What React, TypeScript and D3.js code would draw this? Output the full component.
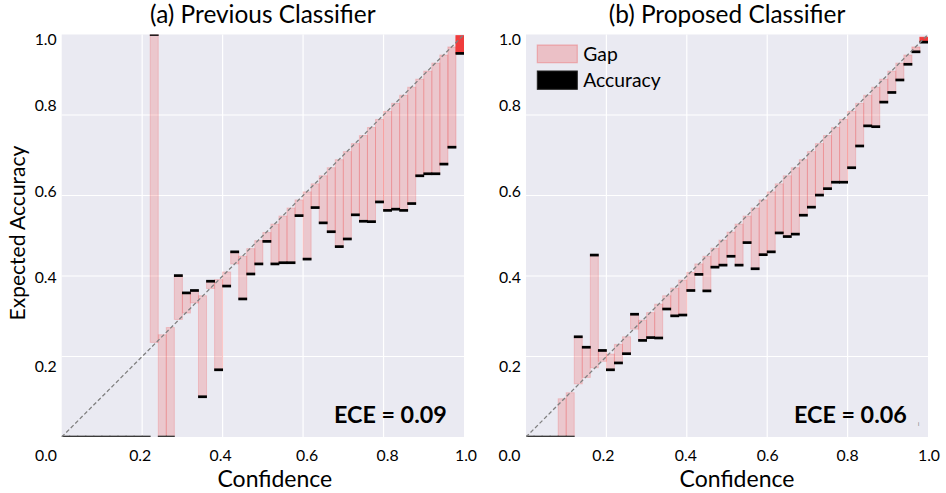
import React from "react";
import * as d3 from "d3";

// ---------- data ----------
const BIN_COUNT = 50;

const prevAccuracy = [
  0, 0, 0, 0, 0, 0, 0, 0, 0, 0,
  0, 1.0, 0, 0, 0.401, 0.358, 0.364, 0.1, 0.387, 0.167,
  0.375, 0.46, 0.343, 0.405, 0.43, 0.486, 0.43, 0.433, 0.433, 0.55,
  0.442, 0.57, 0.532, 0.51, 0.473, 0.492, 0.552, 0.536, 0.535, 0.584,
  0.563, 0.566, 0.563, 0.58, 0.649, 0.654, 0.654, 0.678, 0.72, 0.953,
];
const prevConfidence = [
  0, 0, 0, 0, 0, 0, 0, 0, 0, 0,
  0, 0.235, 0.254, 0.272, 0.292, 0.308, 0.333, 0.351, 0.369, 0.391,
  0.41, 0.43, 0.449, 0.468, 0.488, 0.508, 0.529, 0.549, 0.569, 0.589,
  0.609, 0.629, 0.649, 0.669, 0.689, 0.709, 0.729, 0.749, 0.769, 0.789,
  0.809, 0.829, 0.849, 0.869, 0.889, 0.909, 0.929, 0.949, 0.969, 0.997,
];
const propAccuracy = [
  0, 0, 0, 0, 0, 0, 0.249, 0.223, 0.452, 0.215,
  0.167, 0.184, 0.207, 0.305, 0.24, 0.247, 0.246, 0.318, 0.301, 0.303,
  0.364, 0.404, 0.363, 0.422, 0.427, 0.449, 0.427, 0.483, 0.418, 0.453,
  0.46, 0.507, 0.498, 0.504, 0.551, 0.571, 0.601, 0.617, 0.633, 0.633,
  0.669, 0.723, 0.773, 0.771, 0.832, 0.856, 0.887, 0.926, 0.957, 0.981,
];
const propConfidence = [
  0, 0, 0, 0, 0.095, 0.11, 0.132, 0.148, 0.172, 0.188,
  0.206, 0.23, 0.249, 0.268, 0.29, 0.309, 0.33, 0.351, 0.37, 0.39,
  0.409, 0.43, 0.449, 0.469, 0.489, 0.509, 0.529, 0.549, 0.569, 0.589,
  0.609, 0.629, 0.649, 0.669, 0.689, 0.709, 0.729, 0.749, 0.769, 0.789,
  0.809, 0.829, 0.849, 0.869, 0.889, 0.909, 0.929, 0.949, 0.969, 0.993,
];
// relative sample weight of each bin (drives the gap opacity)
const prevWeight = [
  0, 0, 0, 0, 0, 0, 0, 0, 0, 0, 0, 0, 0, 0, 0, 0, 0, 0, 0, 0, 0, 0, 0, 0, 0,
  0, 0, 0, 0, 0, 0, 0, 0, 0, 0, 0, 0, 0, 0, 0, 0, 0, 0, 0, 0, 0, 0, 0.02, 0.05, 1,
];
const propWeight = [
  0, 0, 0, 0, 0, 0, 0, 0, 0, 0, 0, 0, 0, 0, 0, 0, 0, 0, 0, 0, 0, 0, 0, 0, 0,
  0, 0, 0, 0, 0, 0, 0, 0, 0, 0, 0, 0, 0, 0, 0, 0, 0, 0, 0, 0, 0, 0, 0.03, 0.1, 1,
];

const xTicks = [0, 0.2, 0.4, 0.6, 0.8, 1.0];
const xTickLabels = ["0.0", "0.2", "0.4", "0.6", "0.8", "1.0"];
const yTicks = [0.2, 0.4, 0.6, 0.8, 1.0];
const yTickLabels = ["0.2", "0.4", "0.6", "0.8", "1.0"];
const gridTicks = [0.2, 0.4, 0.6, 0.8];
const panelTitles = ["(a) Previous Classifier", "(b) Proposed Classifier"];
const eceLabels = ["ECE = 0.09", "ECE = 0.06"];
const legendLabels = ["Gap", "Accuracy"];
const xAxisTitle = "Confidence";
const yAxisTitle = "Expected Accuracy";

// ---------- layout ----------
const W = 946;
const H = 493;
const FONT = "Lato, 'Open Sans', sans-serif";
const TOP = 34.5;
const BOTTOM = 437;
const panelsLayout = [
  { x0: 61.7, x1: 464, xNudge: [-15.7, -2, -2, 4, 4, 2], eceRight: 446.7, xTitleShift: 12 },
  { x0: 526, x1: 928, xNudge: [-16.5, -3, -1, 0.5, 0, 1], eceRight: 906.7, xTitleShift: 10 },
];
const yLabelNudge = [10, 2, -3.7, -9, 5.5];
const GAP_RGB = "rgb(240,60,60)";

type PanelProps = {
  idx: number;
  acc: number[];
  conf: number[];
  weight: number[];
};

function Panel({ idx, acc, conf, weight }: PanelProps) {
  const L = panelsLayout[idx];
  const xs = d3.scaleLinear().domain([0, 1]).range([L.x0, L.x1]);
  const ys = d3.scaleLinear().domain([0, 1]).range([BOTTOM, TOP]);
  const edges = d3.range(BIN_COUNT + 1).map((i) => i / BIN_COUNT);
  const bins = d3.range(BIN_COUNT).map((i) => ({
    i,
    lo: edges[i],
    hi: edges[i + 1],
    acc: acc[i],
    conf: conf[i],
    alpha: 0.2 + 0.8 * weight[i],
  }));
  const clipId = `clip-${idx}`;
  const diag = d3.line<number[]>().x((d) => xs(d[0])).y((d) => ys(d[1]))([
    [0, 0],
    [1, 1],
  ]);
  const cx = (L.x0 + L.x1) / 2;
  return (
    <g>
      <defs>
        <clipPath id={clipId}>
          <rect x={L.x0} y={TOP} width={L.x1 - L.x0} height={BOTTOM - TOP} />
        </clipPath>
      </defs>
      <rect x={L.x0} y={TOP} width={L.x1 - L.x0} height={BOTTOM - TOP} fill="#EAEAF2" />
      {gridTicks.map((t) => (
        <line key={"gx" + t} x1={xs(t)} x2={xs(t)} y1={TOP} y2={BOTTOM} stroke="#fff" strokeWidth={1.2} />
      ))}
      {gridTicks.map((t) => (
        <line key={"gy" + t} x1={L.x0} x2={L.x1} y1={ys(t)} y2={ys(t)} stroke="#fff" strokeWidth={1.2} />
      ))}
      <g clipPath={`url(#${clipId})`}>
        {bins.map((b) => {
          const top = ys(Math.max(b.acc, b.conf));
          const bot = ys(Math.min(b.acc, b.conf));
          if (bot - top <= 0) return null;
          return (
            <rect
              key={"gap" + b.i}
              x={xs(b.lo)}
              y={top}
              width={xs(b.hi) - xs(b.lo)}
              height={bot - top}
              fill={GAP_RGB}
              fillOpacity={b.alpha}
              stroke={GAP_RGB}
              strokeOpacity={b.alpha}
              strokeWidth={1}
            />
          );
        })}
        {bins.map((b) => (
          <rect
            key={"acc" + b.i}
            x={xs(b.lo) - 0.4}
            y={ys(b.acc) - 1.35}
            width={xs(b.hi) - xs(b.lo) + 0.8}
            height={2.7}
            fill={b.acc === 0 ? "#3a3a3a" : "#000"}
          />
        ))}
        <path d={diag || ""} stroke="#808080" strokeWidth={1.3} strokeDasharray="4,2.4" fill="none" />
      </g>
      {/* tick labels */}
      {xTicks.map((t, k) => (
        <text
          key={"xt" + k}
          x={xs(t) + L.xNudge[k]}
          y={460.5}
          textAnchor="middle"
          fontFamily={FONT}
          fontSize={15.8}
          fill="#000"
        >
          {xTickLabels[k]}
        </text>
      ))}
      {yTicks.map((t, k) => (
        <text
          key={"yt" + k}
          x={L.x0 - 5}
          y={ys(t) + yLabelNudge[k] + 5.4}
          textAnchor="end"
          fontFamily={FONT}
          fontSize={15.8}
          fill="#000"
        >
          {yTickLabels[k]}
        </text>
      ))}
      <text x={cx} y={23.3} textAnchor="middle" fontFamily={FONT} fontSize={24.4} fill="#000">
        {panelTitles[idx]}
      </text>
      <text
        x={cx + L.xTitleShift}
        y={486.5}
        textAnchor="middle"
        fontFamily={FONT}
        fontSize={23}
        fill="#000"
      >
        {xAxisTitle}
      </text>
      <text
        x={L.eceRight}
        y={423.3}
        textAnchor="end"
        fontFamily={FONT}
        fontWeight={700}
        fontSize={23.3}
        fill="#000"
      >
        {eceLabels[idx]}
      </text>
    </g>
  );
}

function Legend() {
  const px = 537.3;
  const pw = 40;
  const rows = [
    { y: 45, h: 17.7 },
    { y: 71, h: 18.3 },
  ];
  return (
    <g>
      <rect
        x={px}
        y={rows[0].y}
        width={pw}
        height={rows[0].h}
        fill={GAP_RGB}
        fillOpacity={0.24}
        stroke={GAP_RGB}
        strokeOpacity={0.3}
        strokeWidth={1.2}
      />
      <rect x={px} y={rows[1].y} width={pw} height={rows[1].h} fill="#000" stroke="#222" strokeWidth={1} />
      {legendLabels.map((l, k) => (
        <text
          key={l}
          x={583.3}
          y={rows[k].y + rows[k].h / 2 + 7}
          fontFamily={FONT}
          fontSize={19.3}
          fill="#000"
        >
          {l}
        </text>
      ))}
    </g>
  );
}

export default function App() {
  return (
    <svg
      width={W}
      height={H}
      viewBox={`0 0 ${W} ${H}`}
      style={{ position: "absolute", left: 0, top: 0, background: "#fff" }}
    >
      <rect x={0} y={0} width={W} height={H} fill="#fff" />
      <Panel idx={0} acc={prevAccuracy} conf={prevConfidence} weight={prevWeight} />
      <Panel idx={1} acc={propAccuracy} conf={propConfidence} weight={propWeight} />
      <Legend />
      <text
        transform={`translate(25,233) rotate(-90)`}
        textAnchor="middle"
        fontFamily={FONT}
        fontSize={21}
        fill="#000"
      >
        {yAxisTitle}
      </text>
      <text x={918} y={426} fontFamily={FONT} fontSize={5} fill="#666">
        i
      </text>
    </svg>
  );
}
